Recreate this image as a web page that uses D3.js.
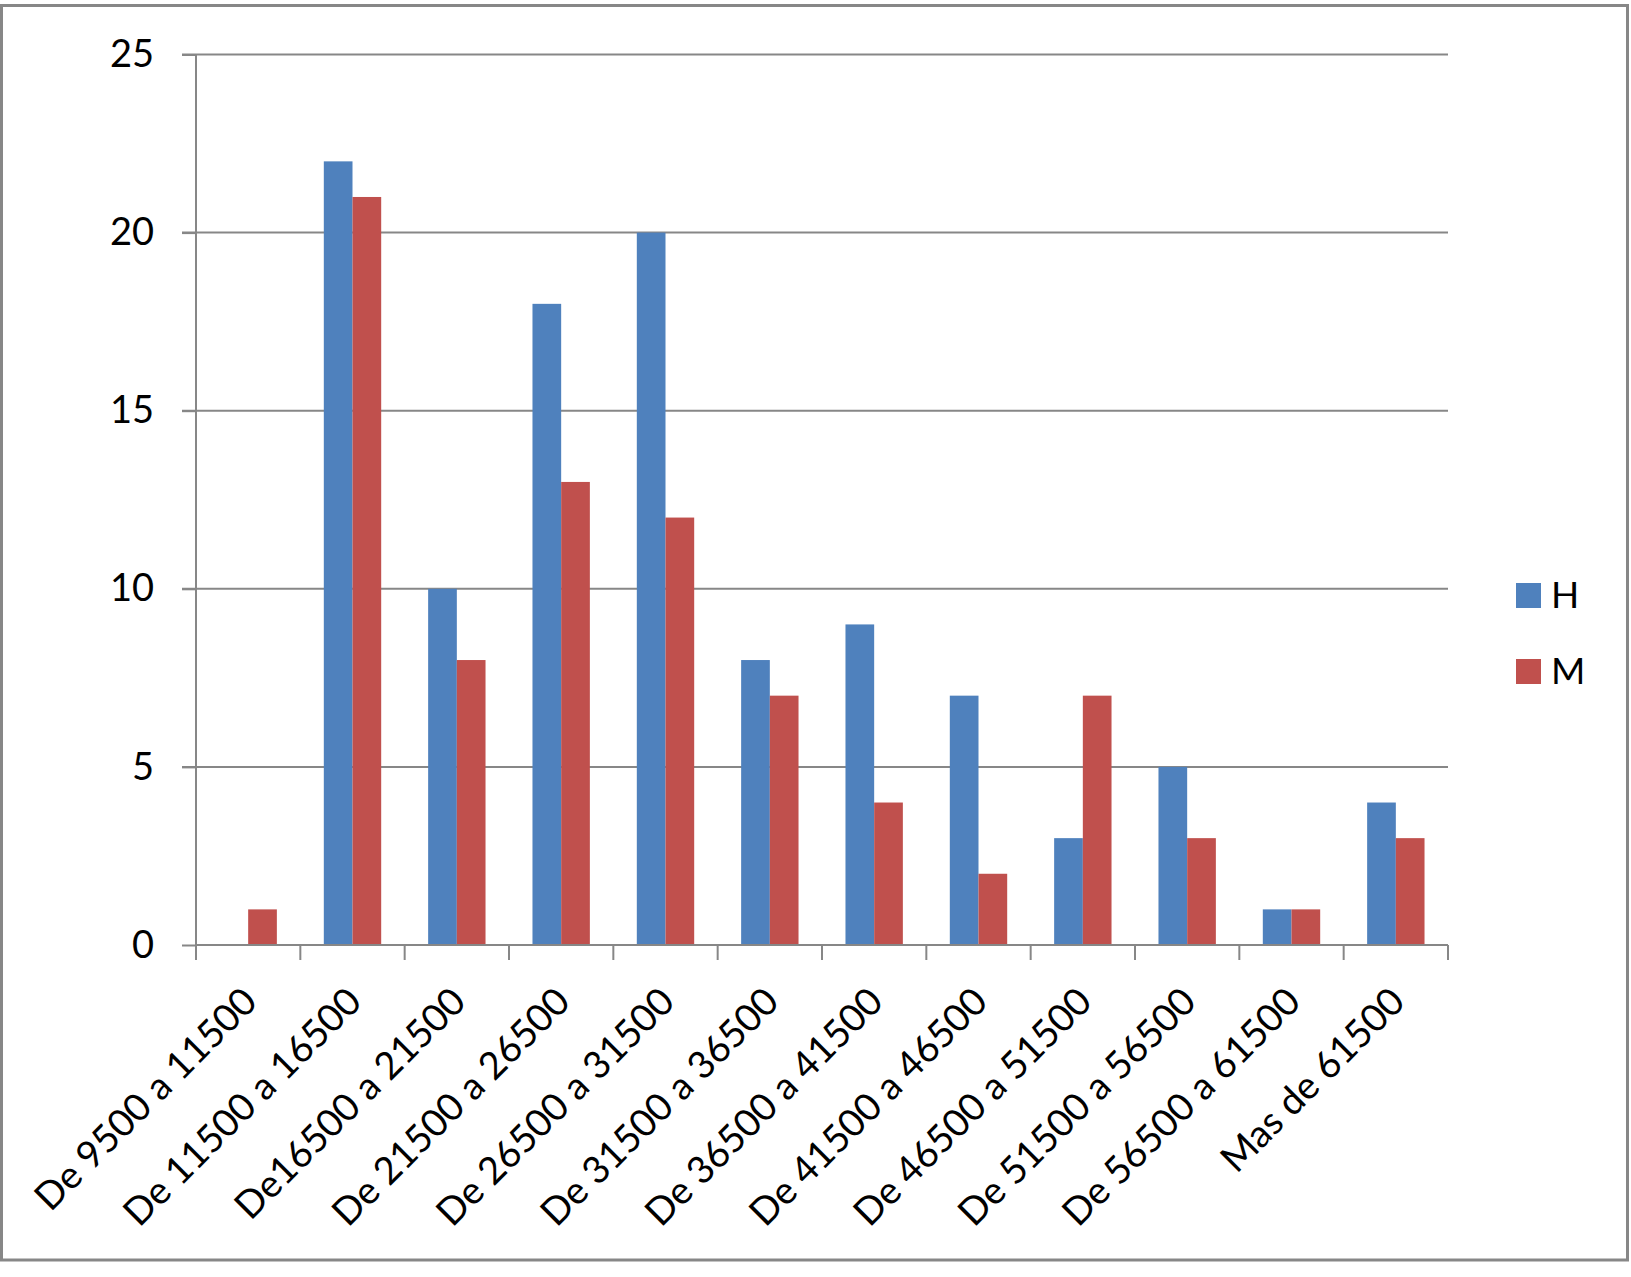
<!DOCTYPE html>
<html>
<head>
<meta charset="utf-8">
<script src="https://cdn.jsdelivr.net/npm/d3@7"></script>
<style>
  html, body { margin: 0; padding: 0; background: #fff; }
  svg { display: block; }
  text { font-family: Lato, "Open Sans", sans-serif; fill: #000; }
</style>
</head>
<body>
<svg id="chart" width="1631" height="1277"></svg>
<script>
const categories = [
  "De 9500 a 11500", "De 11500 a 16500", "De16500 a 21500", "De 21500 a 26500",
  "De 26500 a 31500", "De 31500 a 36500", "De 36500 a 41500", "De 41500 a 46500",
  "De 46500 a 51500", "De 51500 a 56500", "De 56500 a 61500", "Mas de 61500"
];
const seriesNames = ["H", "M"];
const valuesH = [0, 22, 10, 18, 20, 8, 9, 7, 3, 5, 1, 4];
const valuesM = [1, 21, 8, 13, 12, 7, 4, 2, 7, 3, 1, 3];
const yTicks = [0, 5, 10, 15, 20, 25];
const colors = ["#4F81BD", "#C0504D"];

const svg = d3.select("#chart");
const pLeft = 196, pRight = 1448, pTop = 54.5, pBottom = 945;
const fontSize = 38;

// outer frame
svg.append("rect").attr("x", 1.5).attr("y", 5.5).attr("width", 1626).attr("height", 1254.5)
  .attr("fill", "#fff").attr("stroke", "#878787").attr("stroke-width", 3);

const x = d3.scaleBand().domain(categories).range([pLeft, pRight]).paddingInner(0).paddingOuter(0);
const y = d3.scaleLinear().domain([0, 25]).range([pBottom, pTop]);

const gridColor = "#878787";

// gridlines
svg.append("g").selectAll("line").data(yTicks.filter(d => d > 0)).join("line")
  .attr("x1", pLeft - 14).attr("x2", pRight)
  .attr("y1", d => y(d)).attr("y2", d => y(d))
  .attr("stroke", gridColor).attr("stroke-width", 2);

// y axis
const yAxis = d3.axisLeft(y).tickValues(yTicks).tickSize(14).tickPadding(28);
const gy = svg.append("g").attr("transform", `translate(${pLeft},0)`).call(yAxis);
gy.select(".domain").attr("stroke", gridColor).attr("stroke-width", 2).attr("d", `M0,${pTop}V${pBottom}`);
gy.selectAll(".tick line").attr("stroke", gridColor).attr("stroke-width", 2);
gy.selectAll(".tick text").style("font-family", "Lato, sans-serif").attr("font-size", fontSize).attr("fill", "#000");

// bars
const sub = d3.scaleBand().domain(seriesNames).range([0, x.bandwidth() * 0.55]);
const groupOffset = x.bandwidth() * 0.225;
const seriesData = [valuesH, valuesM];
seriesNames.forEach((s, si) => {
  svg.append("g").selectAll("rect").data(categories).join("rect")
    .attr("x", c => x(c) + groupOffset + sub(s))
    .attr("width", sub.bandwidth())
    .attr("y", (c, i) => y(seriesData[si][i]))
    .attr("height", (c, i) => pBottom - y(seriesData[si][i]))
    .attr("fill", colors[si]);
});

// x axis line and ticks
const gx = svg.append("g");
gx.append("line").attr("x1", pLeft).attr("x2", pRight).attr("y1", pBottom).attr("y2", pBottom)
  .attr("stroke", gridColor).attr("stroke-width", 2);
const boundaries = categories.map(c => x(c)).concat([pRight]);
gx.selectAll("line.tk").data(boundaries).join("line").attr("class", "tk")
  .attr("x1", d => d).attr("x2", d => d).attr("y1", pBottom).attr("y2", pBottom + 15)
  .attr("stroke", gridColor).attr("stroke-width", 2);

// x labels
gx.selectAll("text").data(categories).join("text")
  .attr("transform", c => `translate(${x(c) + x.bandwidth() / 2 + 11},${1004}) rotate(-45)`)
  .attr("text-anchor", "end")
  .attr("font-size", fontSize)
  .text(c => c);

// legend
const leg = svg.append("g");
seriesNames.forEach((s, i) => {
  leg.append("rect").attr("x", 1516).attr("y", 583 + i * 76).attr("width", 25).attr("height", 25).attr("fill", colors[i]);
  leg.append("text").attr("x", 1551).attr("y", 608 + i * 76).attr("font-size", 37).text(s);
});
</script>
</body>
</html>
